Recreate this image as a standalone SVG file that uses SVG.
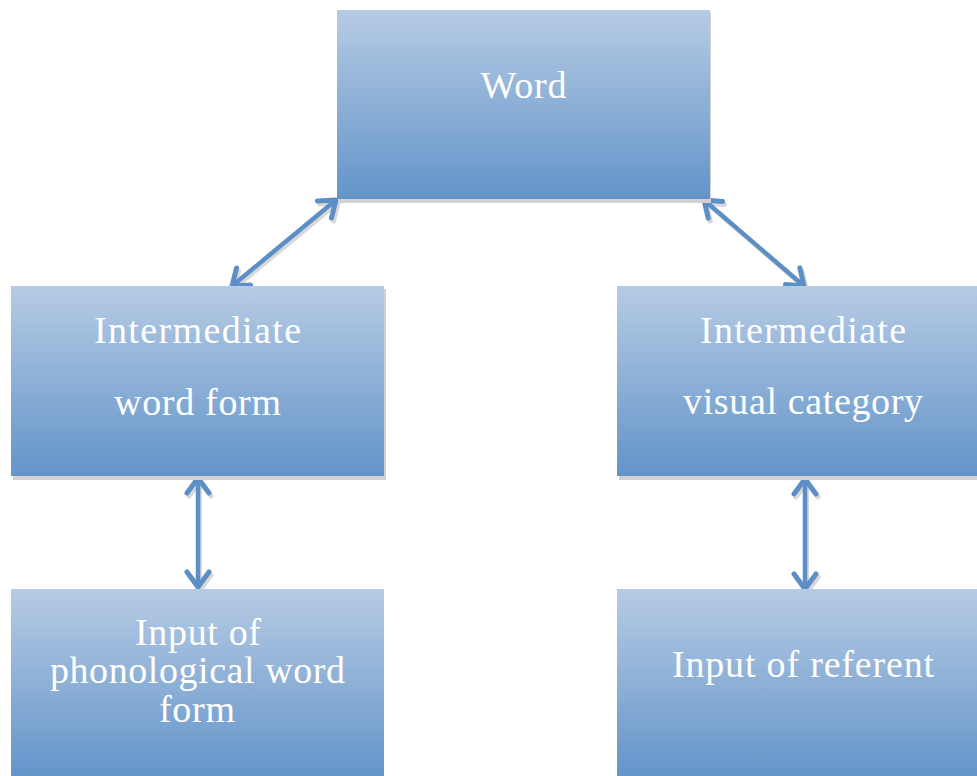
<svg xmlns="http://www.w3.org/2000/svg" width="977" height="776" viewBox="0 0 977 776">
<style>
.box{fill:url(#g)}
.sh{fill:#d2d2d2}
.t{font-family:"Liberation Serif","DejaVu Serif",serif;font-size:38px;fill:#ffffff;text-anchor:middle}
.c{stroke:#5d8fc7;stroke-width:4.5;fill:none;marker-start:url(#ah);marker-end:url(#ah)}
.cs{stroke:#c8c8c8;stroke-width:4;fill:none;opacity:0.7;marker-start:url(#ahs);marker-end:url(#ahs)}
</style>
<defs>
<linearGradient id="g" x1="0" y1="0" x2="0" y2="1">
<stop offset="0" stop-color="#b6cbe4"/>
<stop offset="1" stop-color="#6394c9"/>
</linearGradient>
<marker id="ah" markerUnits="userSpaceOnUse" markerWidth="40" markerHeight="40" refX="0" refY="0" orient="auto-start-reverse" style="overflow:visible">
<path d="M -15 -11 L 0 0 L -15 11" fill="none" stroke="#5d8fc7" stroke-width="5" stroke-linecap="round" stroke-linejoin="round"/>
</marker>
<marker id="ahs" markerUnits="userSpaceOnUse" markerWidth="40" markerHeight="40" refX="0" refY="0" orient="auto-start-reverse" style="overflow:visible">
<path d="M -15 -11 L 0 0 L -15 11" fill="none" stroke="#c8c8c8" stroke-width="5" stroke-linecap="round" stroke-linejoin="round"/>
</marker>
</defs>
<g id="connectors">
<g transform="translate(2,3)">
<line class="cs" x1="336" y1="200" x2="232" y2="286"/>
<line class="cs" x1="704" y1="200" x2="804" y2="286"/>
<line class="cs" x1="198" y1="478" x2="198" y2="587"/>
<line class="cs" x1="805" y1="479" x2="805" y2="589"/>
</g>
<line class="c" x1="336" y1="200" x2="232" y2="286"/>
<line class="c" x1="704" y1="200" x2="804" y2="286"/>
<line class="c" x1="198" y1="478" x2="198" y2="587"/>
<line class="c" x1="805" y1="479" x2="805" y2="589"/>
</g>
<g id="word">
<rect class="sh" x="338" y="13" width="373" height="190"/>
<rect class="box" x="337" y="10" width="373" height="189"/>
<text class="t" x="523.5" y="98" textLength="86">Word</text>
</g>
<g id="intermediate-word-form">
<rect class="sh" x="13" y="289" width="373" height="191"/>
<rect class="box" x="11" y="286" width="373" height="190"/>
<text class="t" x="197.5" y="343" textLength="207">Intermediate</text>
<text class="t" x="197.5" y="415" textLength="167">word form</text>
</g>
<g id="intermediate-visual-category">
<rect class="sh" x="619" y="289" width="373" height="191"/>
<rect class="box" x="617" y="286" width="373" height="190"/>
<text class="t" x="803" y="343" textLength="206">Intermediate</text>
<text class="t" x="803" y="414" textLength="240">visual category</text>
</g>
<g id="input-phonological">
<rect class="box" x="11" y="589" width="373" height="190"/>
<text class="t" x="198" y="645" textLength="126">Input of</text>
<text class="t" x="197.5" y="683" textLength="295">phonological word</text>
<text class="t" x="197" y="722" textLength="76">form</text>
</g>
<g id="input-referent">
<rect class="box" x="617" y="589" width="373" height="190"/>
<text class="t" x="803" y="677" textLength="262">Input of referent</text>
</g>
</svg>
